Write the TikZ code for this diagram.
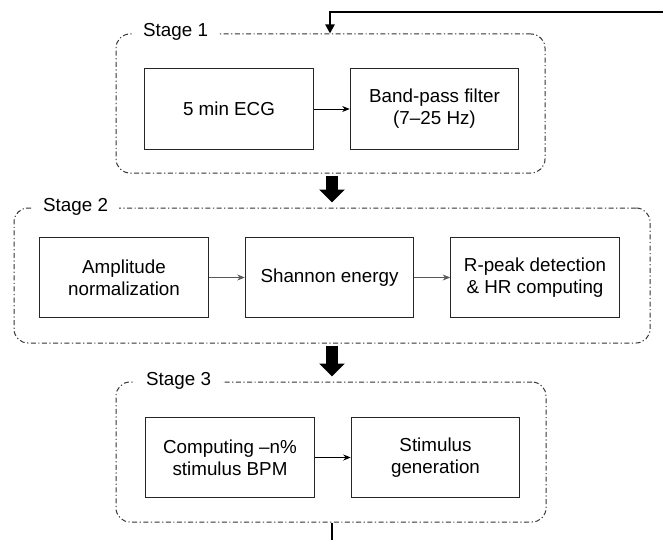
\documentclass[tikz,border=0pt]{standalone}
\usepackage{fontspec}
\setmainfont{Liberation Sans}
\usetikzlibrary{arrows.meta}
\begin{document}
\begin{tikzpicture}[x=1pt,y=-1pt,
  font=\fontsize{18.8}{21.8}\selectfont,
  proc/.style={draw=black!85, line width=1.1pt, minimum width=168.5pt, minimum height=80.5pt, align=center, inner sep=0pt},
  stageframe/.style={draw=black!80, line width=1pt, rounded corners=14pt, dash pattern=on 5pt off 2.5pt on 1.2pt off 2.5pt, inner sep=0pt},
  stagelabel/.style={fill=white, inner xsep=11pt, inner ysep=3pt, anchor=base west},
  flow/.style={-{Stealth[length=7.5pt,width=6pt]}, line width=0.7pt},
  flowgray/.style={flow, draw=black!65, fill=black},
  bigarrow/.style={line width=12pt, -{Triangle[length=13pt,width=25pt]}, shorten >=5pt, shorten <=2pt},
  fbline/.style={line width=2.4pt},
  fbarrow/.style={line width=2.4pt, -{Triangle[length=9pt,width=9pt]}}
]
\useasboundingbox (0,0) rectangle (663,540);
% stage frames
\node[stageframe, minimum width=429pt, minimum height=139pt] (s1) at (330.5,103.5) {};
\node[stageframe, minimum width=636pt, minimum height=135pt] (s2) at (332,275.5) {};
\node[stageframe, minimum width=430pt, minimum height=140pt] (s3) at (331,452) {};
% stage labels
\node[stagelabel] (l1) at (132,37) {Stage 1};
\node[stagelabel] (l2) at (32,211) {Stage 2};
\node[stagelabel] (l3) at (135,385) {Stage 3};
% stage 1
\node[proc] (a1) at (229,109) {5 min ECG};
\node[proc] (a2) at (434.5,109) {Band-pass filter\\(7–25 Hz)};
\draw[flow] (a1) -- (a2);
% stage 2
\node[proc] (b1) at (124,277.5) {Amplitude\\normalization};
\node[proc] (b2) at (329.5,277.5) {Shannon energy};
\node[proc] (b3) at (535,277.5) {R-peak detection\\\& HR computing};
\draw[flowgray] (b1) -- (b2);
\draw[flowgray] (b2) -- (b3);
% stage 3
\node[proc] (c1) at (230,457.5) {Computing –n\%\\stimulus BPM};
\node[proc] (c2) at (435.5,457.5) {Stimulus\\generation};
\draw[flow] (c1) -- (c2);
% big arrows between stages
\draw[bigarrow] (s1.south -| s2.north) -- (s2.north);
\draw[bigarrow] (s2.south) -- (s2.south |- s3.north);
% feedback line
\coordinate (fbbot) at (332,540);
\coordinate (fbtop) at (663,12);
\coordinate (fbturn) at (330,12);
\draw[fbline] (fbbot |- s3.south) -- (fbbot);
\draw[fbarrow] (fbtop) -- (fbturn) -- (fbturn |- s1.north);
\end{tikzpicture}
\end{document}
